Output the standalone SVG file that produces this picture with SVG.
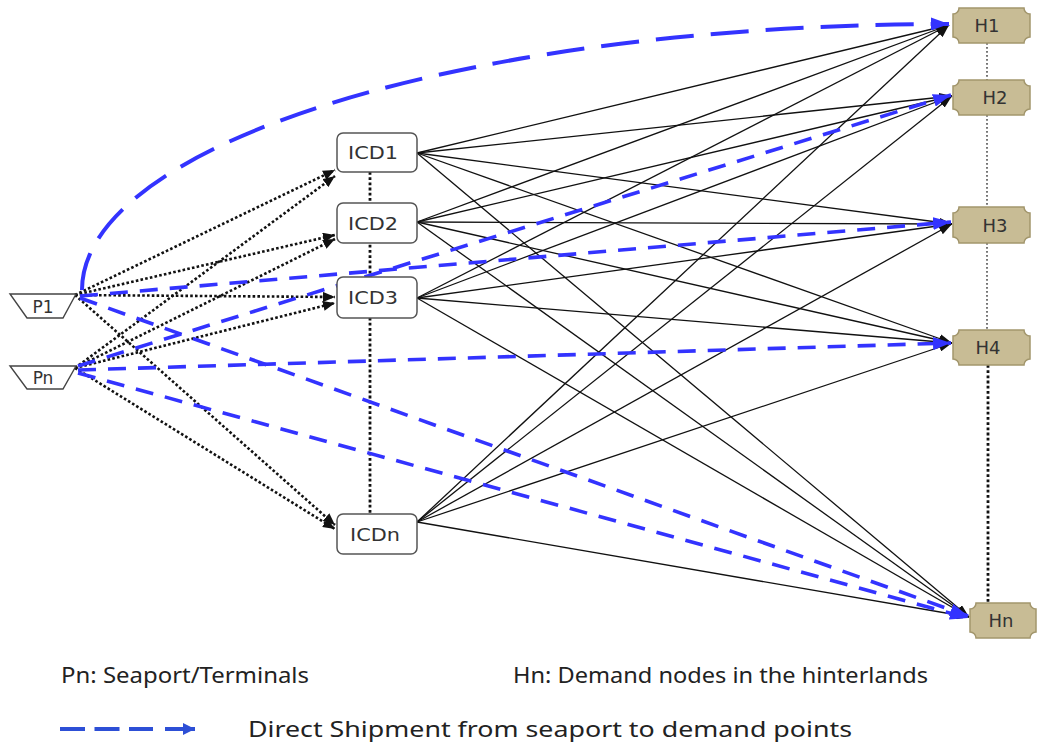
<svg xmlns="http://www.w3.org/2000/svg" width="1039" height="742" viewBox="0 0 1039 742">
<style>
.sol{fill:none;stroke:#111;stroke-width:1.3;marker-end:url(#mk)}
.dot{fill:none;stroke:#111;stroke-width:2.6;stroke-dasharray:2.6 2.2;marker-end:url(#md)}
.blu{fill:none;stroke:#3333ff;stroke-width:3.6;stroke-dasharray:18 12;marker-end:url(#mb)}
.arc{fill:none;stroke:#3333ff;stroke-width:4;stroke-dasharray:38 17;marker-end:url(#mb)}
.vg{fill:none;stroke:#666;stroke-width:1.8;stroke-dasharray:1.8 2.2}
.vb{fill:none;stroke:#111;stroke-width:2.8;stroke-dasharray:2.8 2.4}
.icd{fill:#fff;stroke:#555;stroke-width:1.5}
.hn{fill:#c8bc95;stroke:#a2966c;stroke-width:1.5}
.pt{fill:#fff;stroke:#444;stroke-width:1.4}
.lb{font-family:"DejaVu Sans","Liberation Sans",sans-serif;fill:#333;text-anchor:middle}
.lg{font-family:"Noto Sans","Open Sans",sans-serif;font-size:21px;fill:#222}
</style>
<defs>
<marker id="mk" viewBox="0 0 13 9" refX="13" refY="4.5" markerWidth="13" markerHeight="9" orient="auto" markerUnits="userSpaceOnUse"><path d="M0,0 L13,4.5 L0,9 z" fill="#111"/></marker>
<marker id="md" viewBox="0 0 12 10" refX="12" refY="5" markerWidth="12" markerHeight="10" orient="auto" markerUnits="userSpaceOnUse"><path d="M0,0 L12,5 L0,10 z" fill="#111"/></marker>
<marker id="mb" viewBox="0 0 18 13" refX="18" refY="6.5" markerWidth="18" markerHeight="13" orient="auto" markerUnits="userSpaceOnUse"><path d="M0,0 L18,6.5 L0,13 z" fill="#3333ff"/></marker>
<marker id="ml" viewBox="0 0 12 12" refX="12" refY="6" markerWidth="12" markerHeight="12" orient="auto" markerUnits="userSpaceOnUse"><path d="M0,0 L12,6 L0,12 z" fill="#2d4fd6"/></marker>
</defs>
<rect width="1039" height="742" fill="#fff"/>
<g id="connectors">
<path class="vg" d="M987,43 V80 M987,115 V207 M987,243 V330"/>
<path class="vb" d="M988,365 V603"/>
<path class="vb" d="M370,172 V514"/>
<path class="sol" d="M417,153 L949,25"/>
<path class="sol" d="M417,153 L952,96"/>
<path class="sol" d="M417,153 L952,224"/>
<path class="sol" d="M417,153 L952,343"/>
<path class="sol" d="M417,153 L969,617"/>
<path class="sol" d="M417,222 L949,25"/>
<path class="sol" d="M417,222 L952,96"/>
<path class="sol" d="M417,222 L952,224"/>
<path class="sol" d="M417,222 L952,343"/>
<path class="sol" d="M417,222 L969,617"/>
<path class="sol" d="M417,298 L949,25"/>
<path class="sol" d="M417,298 L952,96"/>
<path class="sol" d="M417,298 L952,224"/>
<path class="sol" d="M417,298 L952,343"/>
<path class="sol" d="M417,298 L969,617"/>
<path class="sol" d="M417,522 L949,25"/>
<path class="sol" d="M417,522 L952,96"/>
<path class="sol" d="M417,522 L952,224"/>
<path class="sol" d="M417,522 L952,343"/>
<path class="sol" d="M417,522 L969,617"/>
<path class="dot" d="M75,295 L335,170"/>
<path class="dot" d="M75,368 L335,176"/>
<path class="dot" d="M75,295 L335,235"/>
<path class="dot" d="M75,368 L335,239"/>
<path class="dot" d="M75,295 L335,297"/>
<path class="dot" d="M75,368 L335,303"/>
<path class="dot" d="M75,295 L335,525"/>
<path class="dot" d="M75,368 L335,529"/>
<path class="arc" d="M82,290 A866,266 0 0 1 949,24"/>
<path class="blu" d="M80,296 L951,222"/>
<path class="blu" d="M80,298 L968,616"/>
<path class="blu" d="M78,366 L951,95"/>
<path class="blu" d="M78,370 L951,343"/>
<path class="blu" d="M78,373 L968,618"/>
</g>
<g id="P1"><polygon class="pt" points="10,294 76,294 63,318 27,318"/><text class="lb" x="43" y="313" font-size="17">P1</text></g>
<g id="Pn"><polygon class="pt" points="10,366 76,366 63,389 27,389"/><text class="lb" x="43" y="384" font-size="17">Pn</text></g>
<g id="ICD1"><rect class="icd" x="337" y="133" width="80" height="39" rx="6"/><text class="lb" x="373" y="159" font-size="18" textLength="50" lengthAdjust="spacingAndGlyphs">ICD1</text></g>
<g id="ICD2"><rect class="icd" x="337" y="203" width="80" height="40" rx="6"/><text class="lb" x="373" y="230" font-size="18" textLength="50" lengthAdjust="spacingAndGlyphs">ICD2</text></g>
<g id="ICD3"><rect class="icd" x="337" y="277" width="80" height="41" rx="6"/><text class="lb" x="373" y="304" font-size="18" textLength="50" lengthAdjust="spacingAndGlyphs">ICD3</text></g>
<g id="ICDn"><rect class="icd" x="337" y="514" width="80" height="40" rx="6"/><text class="lb" x="375" y="541" font-size="18" textLength="50" lengthAdjust="spacingAndGlyphs">ICDn</text></g>
<g id="H1"><path class="hn" d="M959,8 H1024 A6,6 0 0 0 1030,14 V37 A6,6 0 0 0 1024,43 H959 A6,6 0 0 0 953,37 V14 A6,6 0 0 0 959,8 Z"/><text class="lb" x="987" y="32" font-size="18">H1</text></g>
<g id="H2"><path class="hn" d="M959,80 H1024 A6,6 0 0 0 1030,86 V109 A6,6 0 0 0 1024,115 H959 A6,6 0 0 0 953,109 V86 A6,6 0 0 0 959,80 Z"/><text class="lb" x="995" y="104" font-size="18">H2</text></g>
<g id="H3"><path class="hn" d="M959,207 H1024 A6,6 0 0 0 1030,213 V237 A6,6 0 0 0 1024,243 H959 A6,6 0 0 0 953,237 V213 A6,6 0 0 0 959,207 Z"/><text class="lb" x="995" y="232" font-size="18">H3</text></g>
<g id="H4"><path class="hn" d="M959,330 H1024 A6,6 0 0 0 1030,336 V359 A6,6 0 0 0 1024,365 H959 A6,6 0 0 0 953,359 V336 A6,6 0 0 0 959,330 Z"/><text class="lb" x="988" y="354" font-size="18">H4</text></g>
<g id="Hn"><path class="hn" d="M976,603 H1030 A6,6 0 0 0 1036,609 V632 A6,6 0 0 0 1030,638 H976 A6,6 0 0 0 970,632 V609 A6,6 0 0 0 976,603 Z"/><text class="lb" x="1001" y="627" font-size="18">Hn</text></g>
<g id="legend">
<text class="lg" x="61" y="683" textLength="248" lengthAdjust="spacingAndGlyphs">Pn: Seaport/Terminals</text>
<text class="lg" x="513" y="683" textLength="415" lengthAdjust="spacingAndGlyphs">Hn: Demand nodes in the hinterlands</text>
<path d="M60,729 H153" fill="none" stroke="#2d4fd6" stroke-width="4" stroke-dasharray="25 9.5"/>
<path d="M165,729 H195" fill="none" stroke="#2d4fd6" stroke-width="4" marker-end="url(#ml)"/>
<text class="lg" x="248" y="737" textLength="604" lengthAdjust="spacingAndGlyphs">Direct Shipment from seaport to demand points</text>
</g>
</svg>
